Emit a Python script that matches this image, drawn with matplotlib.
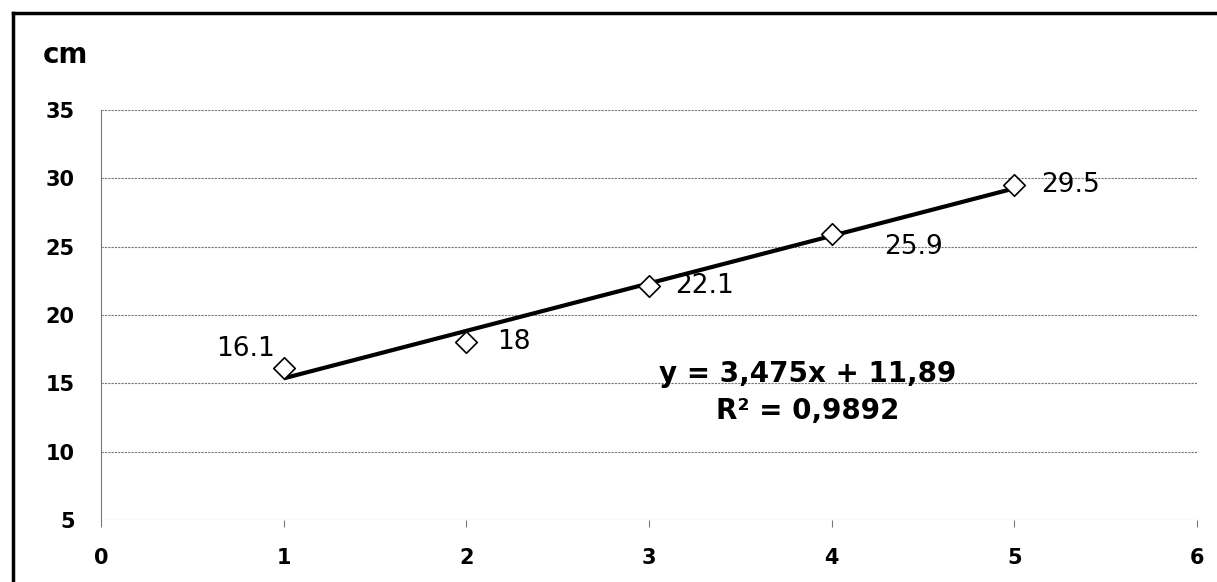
import matplotlib.pyplot as plt
from matplotlib.lines import Line2D

# données
x = [1, 2, 3, 4, 5]
y = [16.1, 18, 22.1, 25.9, 29.5]
labels = ["16.1", "18", "22.1", "25.9", "29.5"]
slope, intercept = 3.475, 11.89
eq_text = "y = 3,475x + 11,89\nR² = 0,9892"

fig = plt.figure(figsize=(12.17, 5.82), dpi=100)
ax = fig.add_axes([0.083, 0.1065, 0.9006, 0.7045])

ax.set_xlim(0, 6)
ax.set_ylim(5, 35)
ax.set_xticks(range(0, 7))
ax.set_yticks(range(5, 40, 5))
ax.grid(True, axis="y", color="#777777", linestyle=(0, (2, 1)), linewidth=0.8)
ax.set_axisbelow(True)
for s in ["top", "right", "bottom"]:
    ax.spines[s].set_visible(False)
ax.spines["left"].set_color("#777777")
ax.spines["left"].set_linestyle((0, (2, 1)))
ax.spines["left"].set_linewidth(0.8)
ax.tick_params(axis="x", length=5, width=0.8, color="#777777", pad=15, labelsize=15)
ax.tick_params(axis="y", length=0, pad=19, labelsize=15)
for lab in ax.get_xticklabels() + ax.get_yticklabels():
    lab.set_fontweight("bold")

# courbe de tendance
tx = [x[0], x[-1]]
ty = [slope * v + intercept for v in tx]
ax.plot(tx, ty, color="black", linewidth=3, solid_capstyle="butt", zorder=3)

# points
ax.scatter(x, y, marker="D", s=120, facecolor="white", edgecolor="black",
           linewidth=1.2, zorder=4)

offsets = [(-6, 14), (22, 0), (19, 0), (38, -9), (19, 0)]
aligns = ["right", "left", "left", "left", "left"]
for xi, yi, lab, off, ha in zip(x, y, labels, offsets, aligns):
    ax.annotate(lab, (xi, yi), xytext=off, textcoords="offset points",
                fontsize=19, va="center", ha=ha)

ax.text(3.87, 14.35, eq_text, fontsize=20, fontweight="bold",
        ha="center", va="center", linespacing=1.4)

fig.text(0.035, 0.905, "cm", fontsize=20, fontweight="bold",
         ha="left", va="center")

# cadre extérieur
fig.add_artist(Line2D([0.011, 0.011], [0, 0.978], color="black",
                      linewidth=2.5, transform=fig.transFigure))
fig.add_artist(Line2D([0.011, 1.0], [0.978, 0.978], color="black",
                      linewidth=2.5, transform=fig.transFigure))

fig.savefig("out.png", dpi=100)
